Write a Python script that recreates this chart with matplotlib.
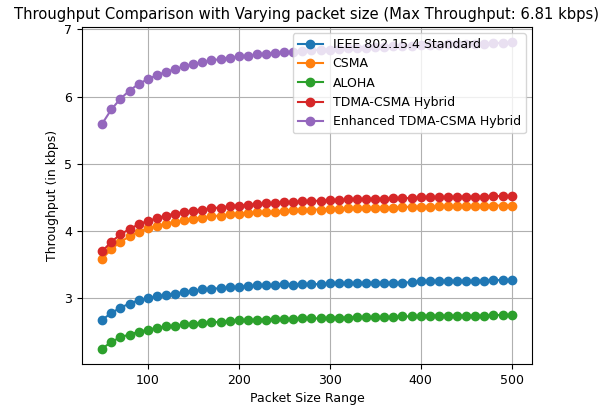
import numpy as np
import matplotlib
matplotlib.use('Agg')
import matplotlib.pyplot as plt

packet_sizes = list(range(50, 501, 10))

ieee = [2.68, 2.78, 2.86, 2.92, 2.97, 3.00, 3.03, 3.05, 3.07, 3.09,
        3.11, 3.13, 3.14, 3.15, 3.16, 3.17, 3.18, 3.19, 3.19, 3.20,
        3.21, 3.20, 3.21, 3.21, 3.21, 3.22, 3.22, 3.22, 3.22, 3.23,
        3.23, 3.23, 3.23, 3.23, 3.24, 3.25, 3.25, 3.25, 3.25, 3.25,
        3.25, 3.25, 3.26, 3.27, 3.27, 3.27]
csma = [3.59, 3.73, 3.84, 3.92, 3.99, 4.04, 4.08, 4.11, 4.14, 4.16,
        4.18, 4.20, 4.22, 4.23, 4.25, 4.26, 4.27, 4.28, 4.29, 4.29,
        4.30, 4.31, 4.31, 4.32, 4.32, 4.33, 4.33, 4.34, 4.34, 4.34,
        4.35, 4.35, 4.35, 4.36, 4.36, 4.36, 4.36, 4.37, 4.37, 4.37,
        4.37, 4.37, 4.38, 4.38, 4.38, 4.38]
aloha = [2.25, 2.35, 2.42, 2.46, 2.50, 2.53, 2.56, 2.58, 2.59, 2.61,
         2.62, 2.63, 2.64, 2.65, 2.66, 2.67, 2.67, 2.68, 2.68, 2.69,
         2.69, 2.69, 2.70, 2.70, 2.70, 2.71, 2.71, 2.71, 2.72, 2.72,
         2.72, 2.72, 2.72, 2.73, 2.73, 2.74, 2.74, 2.74, 2.74, 2.74,
         2.74, 2.74, 2.74, 2.75, 2.75, 2.75]
tdma_csma = [3.70, 3.84, 3.95, 4.03, 4.10, 4.15, 4.19, 4.23, 4.26, 4.28,
             4.30, 4.32, 4.34, 4.35, 4.37, 4.38, 4.39, 4.40, 4.41, 4.42,
             4.43, 4.43, 4.44, 4.45, 4.45, 4.46, 4.46, 4.47, 4.47, 4.48,
             4.48, 4.48, 4.49, 4.49, 4.49, 4.50, 4.50, 4.50, 4.50, 4.51,
             4.51, 4.51, 4.51, 4.52, 4.52, 4.52]
enhanced = [5.60, 5.81, 5.97, 6.09, 6.19, 6.26, 6.32, 6.37, 6.41, 6.45,
            6.48, 6.51, 6.54, 6.56, 6.58, 6.60, 6.61, 6.63, 6.64, 6.65,
            6.66, 6.67, 6.68, 6.69, 6.70, 6.70, 6.71, 6.72, 6.73, 6.73,
            6.74, 6.74, 6.75, 6.76, 6.76, 6.77, 6.77, 6.77, 6.78, 6.78,
            6.79, 6.79, 6.79, 6.80, 6.80, 6.81]

series = [('IEEE 802.15.4 Standard', ieee),
          ('CSMA', csma),
          ('ALOHA', aloha),
          ('TDMA-CSMA Hybrid', tdma_csma),
          ('Enhanced TDMA-CSMA Hybrid', enhanced)]

max_tp = max(max(s) for _, s in series)

fig, ax = plt.subplots(figsize=(6.06, 4.08), dpi=100)
fig.subplots_adjust(left=0.135, right=0.878, bottom=0.108, top=0.934)

for name, vals in series:
    ax.plot(packet_sizes, vals, marker='o', label=name)

ax.set_title(f'Throughput Comparison with Varying packet size (Max Throughput: {max_tp:.2f} kbps)', fontsize=10.6)
ax.set_xlabel('Packet Size Range', fontsize=9)
ax.set_ylabel('Throughput (in kbps)', fontsize=9)
ax.tick_params(labelsize=9)
ax.grid(True)
ax.legend(loc='upper right', fontsize=9)

plt.savefig('out.png', dpi=100)
